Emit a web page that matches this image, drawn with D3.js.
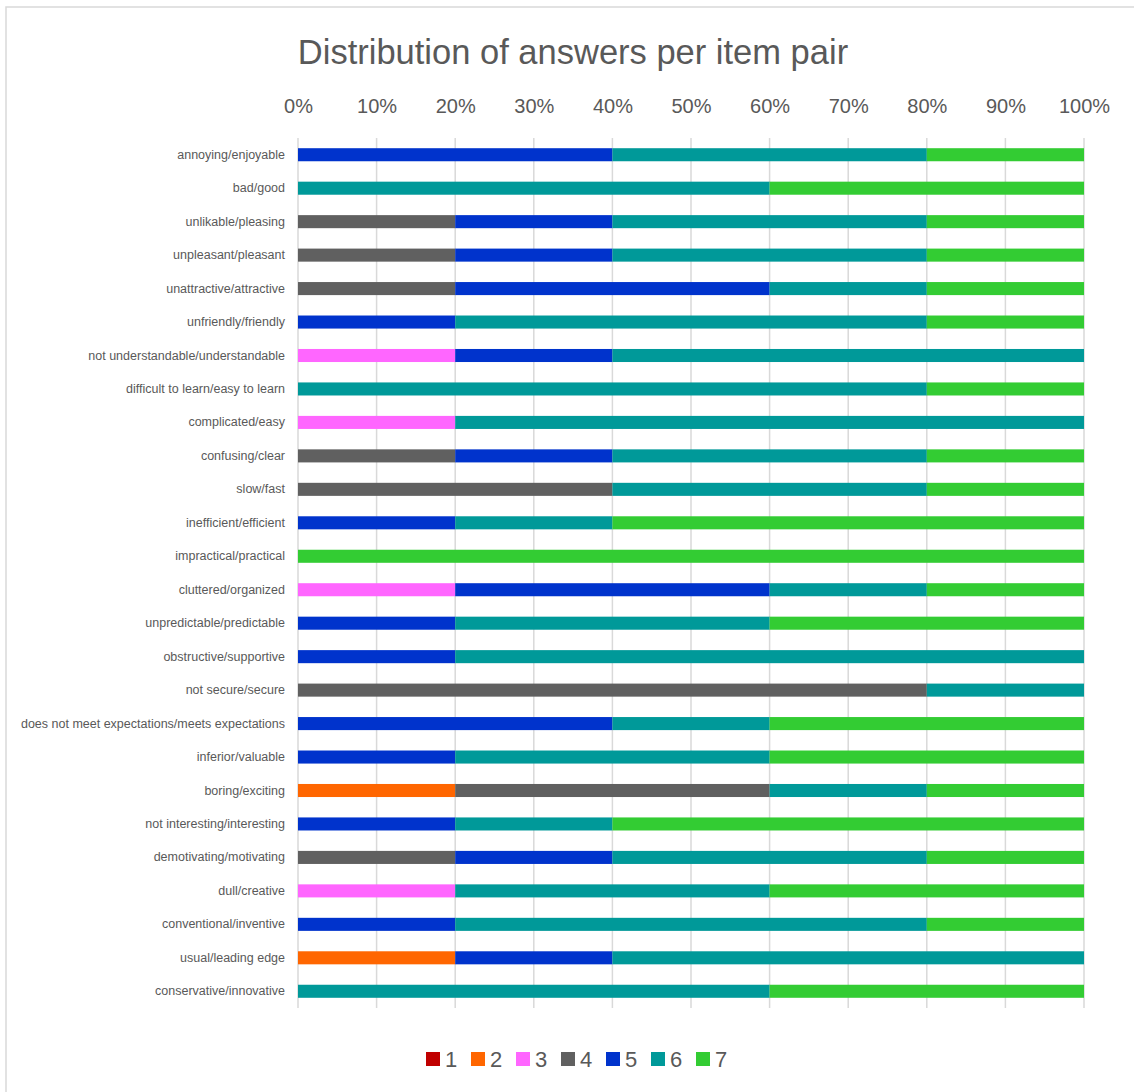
<!DOCTYPE html>
<html>
<head>
<meta charset="utf-8">
<script src="https://cdn.jsdelivr.net/npm/d3@7"></script>
<style>
  body { margin: 0; background: #fff; }
  text { font-family: "Liberation Sans", sans-serif; fill: #595959; }
</style>
</head>
<body>
<svg id="chart" width="1134" height="1092"></svg>
<script>
// item pairs, top to bottom
const items = [
  "annoying/enjoyable", "bad/good", "unlikable/pleasing", "unpleasant/pleasant",
  "unattractive/attractive", "unfriendly/friendly", "not understandable/understandable",
  "difficult to learn/easy to learn", "complicated/easy", "confusing/clear", "slow/fast",
  "inefficient/efficient", "impractical/practical", "cluttered/organized",
  "unpredictable/predictable", "obstructive/supportive", "not secure/secure",
  "does not meet expectations/meets expectations", "inferior/valuable", "boring/exciting",
  "not interesting/interesting", "demotivating/motivating", "dull/creative",
  "conventional/inventive", "usual/leading edge", "conservative/innovative"
];

// share of answers (%) per scale value, same order as items
const s1 = [0,0,0,0,0,0,0,0,0,0,0,0,0,0,0,0,0,0,0,0,0,0,0,0,0,0];
const s2 = [0,0,0,0,0,0,0,0,0,0,0,0,0,0,0,0,0,0,0,20,0,0,0,0,20,0];
const s3 = [0,0,0,0,0,0,20,0,20,0,0,0,0,20,0,0,0,0,0,0,0,0,20,0,0,0];
const s4 = [0,0,20,20,20,0,0,0,0,20,40,0,0,0,0,0,80,0,0,40,0,20,0,0,0,0];
const s5 = [40,0,20,20,40,20,20,0,0,20,0,20,0,40,20,20,0,40,20,0,20,20,0,20,20,0];
const s6 = [40,60,40,40,20,60,60,80,80,40,40,20,0,20,40,80,20,20,40,20,20,40,40,60,60,60];
const s7 = [20,40,20,20,20,20,0,20,0,20,20,60,100,20,40,0,0,40,40,20,60,20,40,20,0,40];

const seriesNames = ["1", "2", "3", "4", "5", "6", "7"];
const seriesVals = [s1, s2, s3, s4, s5, s6, s7];
const colors = ["#C00000", "#FF6600", "#FF66FF", "#606060", "#0033CC", "#009999", "#33CC33"];
const tickVals = [0, 10, 20, 30, 40, 50, 60, 70, 80, 90, 100];

const svg = d3.select("#chart");

// chart border
svg.append("rect").attr("x", 6).attr("y", 7).attr("width", 1140).attr("height", 1100)
  .attr("fill", "none").attr("stroke", "#d9d9d9").attr("stroke-width", 1.5);

svg.append("text").attr("x", 573).attr("y", 64).attr("text-anchor", "middle")
  .style("font-size", "34.5px")
  .text("Distribution of answers per item pair");

const plotL = 298, plotR = 1084, plotT = 138, plotB = 1008;

const x = d3.scaleLinear().domain([0, 100]).range([plotL, plotR]);
const y = d3.scaleBand().domain(items).range([plotT, plotB]).paddingInner(0.61).paddingOuter(0.305);

// table for stacking
const table = items.map((name, i) => {
  const row = { name };
  seriesNames.forEach((s, k) => { row[s] = seriesVals[k][i]; });
  return row;
});
const stacked = d3.stack().keys(seriesNames)(table);

// gridlines
svg.append("g").selectAll("line").data(tickVals).enter().append("line")
  .attr("x1", d => x(d)).attr("x2", d => x(d))
  .attr("y1", plotT).attr("y2", plotB)
  .attr("stroke", "#d9d9d9").attr("stroke-width", 1.5);

// top axis labels
const xAxis = d3.axisTop(x).tickValues(tickVals).tickFormat(d => d + "%").tickSize(0).tickPadding(0);
const gx = svg.append("g").attr("transform", `translate(0, ${plotT - 25})`).call(xAxis);
gx.select(".domain").remove();
gx.selectAll("text").style("font-size", "20px").style("fill", "#595959")
  .style("font-family", "'Liberation Sans', sans-serif");

// bars
svg.append("g").selectAll("g").data(stacked).enter().append("g")
  .attr("fill", (d, i) => colors[i])
  .selectAll("rect").data(d => d).enter().append("rect")
  .attr("x", d => x(d[0]))
  .attr("y", d => y(d.data.name))
  .attr("width", d => x(d[1]) - x(d[0]))
  .attr("height", y.bandwidth());

// category labels
const yAxis = d3.axisLeft(y).tickSize(0).tickPadding(13);
const gy = svg.append("g").attr("transform", `translate(${plotL}, 0)`).call(yAxis);
gy.select(".domain").remove();
gy.selectAll("text").style("font-size", "12.5px").style("fill", "#595959")
  .style("font-family", "'Liberation Sans', sans-serif");

// legend
const legend = svg.append("g").attr("transform", "translate(426, 1059)");
const item = legend.selectAll("g").data(seriesNames).enter().append("g")
  .attr("transform", (d, i) => `translate(${i * 45}, 0)`);
item.append("rect").attr("x", 0).attr("y", -7).attr("width", 14).attr("height", 14)
  .attr("fill", (d, i) => colors[i]);
item.append("text").attr("x", 19).attr("y", 8).style("font-size", "22px")
  .text(d => d);
</script>
</body>
</html>
